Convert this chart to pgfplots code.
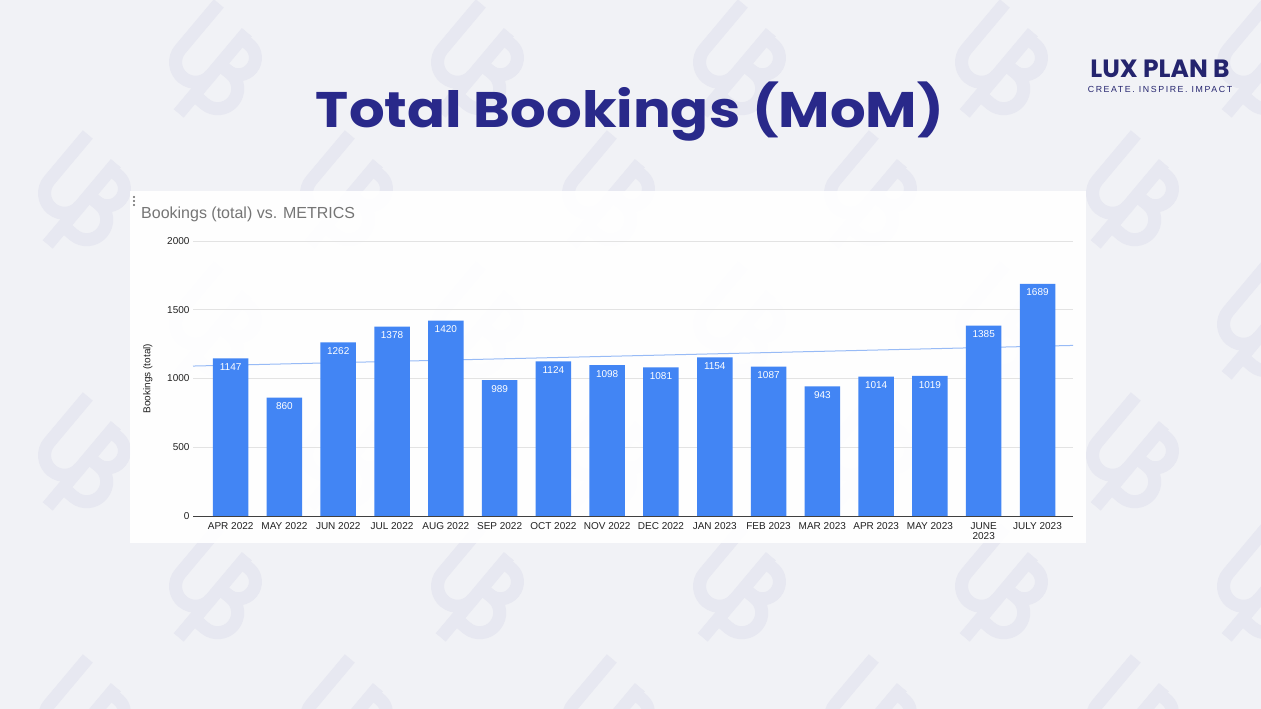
\documentclass[border=0pt]{standalone}
\usepackage{fontspec}
\setmainfont{Liberation Sans}
\newfontfamily\titlefont{Poppins}
\newfontfamily\tagfont[LetterSpace=18]{Liberation Sans}
\usepackage{pgfplots}
\pgfplotsset{compat=1.18}
\definecolor{slidebg}{HTML}{F1F2F6}
\definecolor{wmark}{HTML}{E7E8F1}
\definecolor{navy}{HTML}{29298A}
\definecolor{logonavy}{HTML}{24246E}
\definecolor{barblue}{HTML}{4285F4}
\definecolor{trendblue}{HTML}{98BBF6}
\definecolor{gridgray}{HTML}{E3E3E3}
\definecolor{ticktext}{HTML}{222222}
\definecolor{ctitle}{HTML}{757575}
\pgfplotstableread{
x y
0 1147
1 860
2 1262
3 1378
4 1420
5 989
6 1124
7 1098
8 1081
9 1154
10 1087
11 943
12 1014
13 1019
14 1385
15 1689
}\bookings
\begin{document}
\begin{tikzpicture}[x=1pt,y=1pt]
\fill[slidebg] (0,0) rectangle (1261,709);
% watermark pattern
\begin{scope}
\clip (0,0) rectangle (1261,709);
\foreach \i in {-1,...,10}{
  \foreach \j in {-1,...,7}{
    \pgfmathsetmacro{\cx}{85+131*\i}
    \pgfmathsetmacro{\cy}{709-(200-131*\i+262*\j)}
    \begin{scope}[shift={(\cx,\cy)}, rotate=-40, line width=13pt, wmark, line cap=butt]
      \draw (-40,52) -- (-40,-8) arc[start angle=180, end angle=360, radius=20];
      \draw (0,48) -- (0,-58);
      \draw (0,40) -- (10,40) arc[start angle=90, end angle=-90, radius=17] -- (0,6);
      \draw (0,6) -- (14,6) arc[start angle=90, end angle=-90, radius=20] -- (0,-34);
    \end{scope}
  }
}
\end{scope}
% title
\node[anchor=base, text=navy, inner sep=0] at (630,581)
  {\scalebox{1.12}[1]{\titlefont\bfseries\fontsize{50}{54}\selectfont Total Bookings (MoM)}};
% logo
\node[anchor=base, text=logonavy, inner sep=0] at (1160,631)
  {\titlefont\bfseries\fontsize{25}{28}\selectfont LUX PLAN B};
\node[anchor=base, text=logonavy, inner sep=0] at (1160,616)
  {\tagfont\fontsize{8.8}{10}\selectfont CREATE. INSPIRE. IMPACT};
% chart card
\fill[white, opacity=0.94] (130,166) rectangle (1086,518);
\foreach \yy in {512,508,504} \fill[gray!80!black] (134,\yy) circle (1.2);
\node[anchor=base west, text=ctitle, inner sep=0] at (141,490)
  {\fontsize{16}{18}\selectfont Bookings (total) vs. METRICS};
\begin{axis}[
  at={(193pt,193pt)}, anchor=south west,
  scale only axis, width=880pt, height=275pt,
  xmin=-0.7, xmax=15.66, ymin=0, ymax=2000,
  ytick={0,500,1000,1500,2000},
  xtick={0,...,15},
  xticklabels={APR 2022,MAY 2022,JUN 2022,JUL 2022,AUG 2022,SEP 2022,OCT 2022,NOV 2022,DEC 2022,JAN 2023,FEB 2023,MAR 2023,APR 2023,MAY 2023,{JUNE\\2023},JULY 2023},
  xticklabel style={align=center, text=ticktext, font=\fontsize{10}{10}\selectfont, anchor=north, yshift=-3pt},
  yticklabel style={text=ticktext, font=\fontsize{10}{11}\selectfont},
  /pgf/number format/assume math mode=true,
  /pgf/number format/1000 sep={},
  ymajorgrids, grid style={gridgray, line width=0.9pt},
  axis x line*=bottom, axis y line*=left,
  x axis line style={color=black!75, line width=0.9pt, -},
  y axis line style={draw=none},
  major tick length=0pt,
  ylabel={Bookings (total)},
  ylabel style={text=ticktext, font=\fontsize{10}{11}\selectfont, at={(ticklabel cs:0.5)}, yshift=8pt},
  clip=false,
]
\addplot[trendblue, line width=1pt, no marks] coordinates {(-0.7,1090.5) (15.66,1240.5)};
\addplot[ybar, bar width=35.5pt, fill=barblue, draw=none,
  nodes near coords,
  nodes near coords style={anchor=north, yshift=-5pt, inner sep=0pt, text=white, font=\fontsize{10}{11}\selectfont}]
  table[x=x, y=y] {\bookings};
\end{axis}
\end{tikzpicture}
\end{document}
